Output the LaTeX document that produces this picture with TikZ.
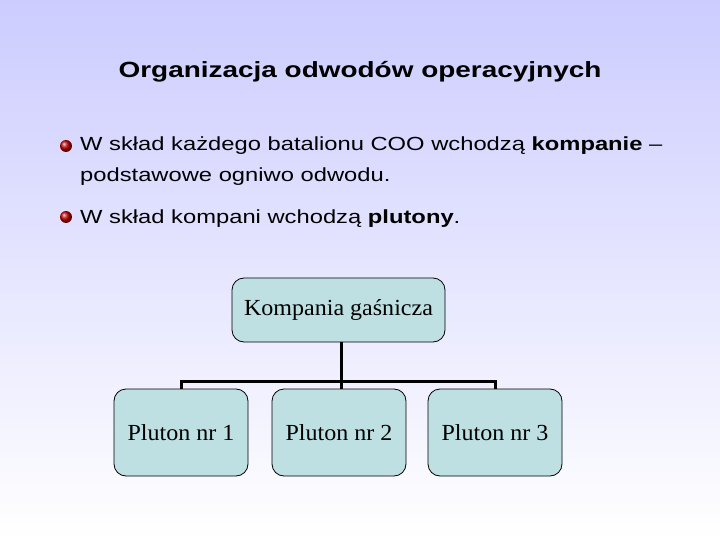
\documentclass[tikz,border=0pt]{standalone}
\usepackage{fontspec}
\setmainfont{Liberation Serif}
\setsansfont{Liberation Sans}
\usetikzlibrary{positioning}
\definecolor{bgtop}{HTML}{CCCCFF}
\definecolor{boxfill}{HTML}{BEE0E3}
\definecolor{ballred}{HTML}{C00000}
\newcommand{\wideA}[1]{\scalebox{1.27}[1]{#1}}
\newcommand{\wideB}[1]{\scalebox{1.25}[1]{#1}}
\newcommand{\wideC}[1]{\scalebox{1.045}[1]{#1}}
\tikzset{
  orgbox/.style={draw=black, line width=0.8pt, fill=boxfill, rounded corners=12pt, font=\fontsize{23}{27}\selectfont\rmfamily, inner sep=0pt},
  conn/.style={line width=3pt, black},
  bodytext/.style={anchor=base west, inner sep=0pt, font=\fontsize{19}{23}\selectfont\sffamily},
  bulletball/.style={circle, minimum size=12pt, inner sep=0pt, ball color=ballred},
}
\begin{document}
\begin{tikzpicture}[x=1pt,y=-1pt]
\useasboundingbox (0,0) rectangle (720,540);
\shade[top color=bgtop, bottom color=white] (0,0) rectangle (720,540);
\node[anchor=base, inner sep=0pt, font=\fontsize{22}{26}\selectfont\sffamily\bfseries] (title) at (360,78) {\wideA{Organizacja odwodów operacyjnych}};
\node[bulletball] (b1) at (66,146) {};
\node[bodytext] (t1) at (80,151) {\wideB{W skład każdego batalionu COO wchodzą \textbf{kompanie} –}};
\node[bodytext] (t1b) at (80,182) {\wideB{podstawowe ogniwo odwodu.}};
\node[bulletball] (b2) at (66,217) {};
\node[bodytext] (t2) at (80,224) {\wideB{W skład kompani wchodzą \textbf{plutony}.}};
\node[orgbox, minimum width=213pt, minimum height=64pt] (top) at (338.5,310) {\wideC{Kompania gaśnicza}};
\node[orgbox, minimum width=134pt, minimum height=87pt] (p1) at (181,432.5) {\wideC{Pluton nr 1}};
\node[orgbox, minimum width=134pt, minimum height=87pt] (p2) at (339,432.5) {\wideC{Pluton nr 2}};
\node[orgbox, minimum width=134pt, minimum height=87pt] (p3) at (495,432.5) {\wideC{Pluton nr 3}};
\coordinate (bar) at (341,381);
\draw[conn] (top.south -| bar) -- (bar);
\draw[conn] (p1.north) |- (bar) -| (p3.north);
\draw[conn] (bar) -- (p2.north -| bar);
\end{tikzpicture}
\end{document}
